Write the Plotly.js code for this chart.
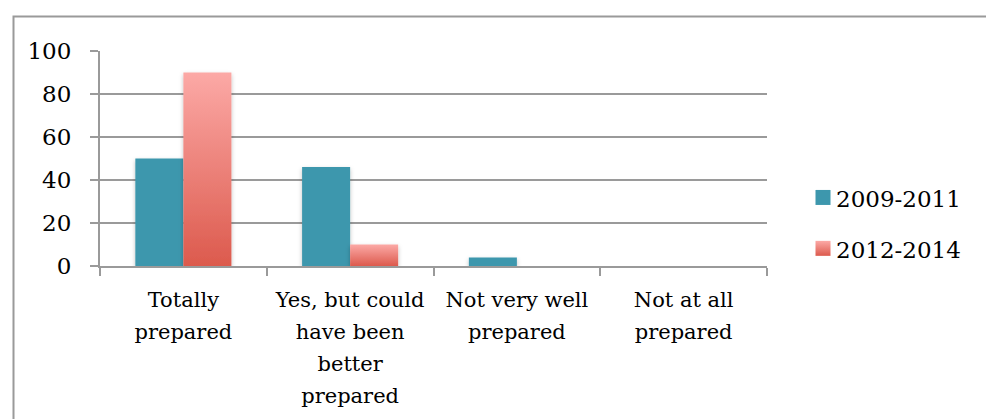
<!DOCTYPE html>
<html>
<head>
<meta charset="utf-8">
<script src="https://cdn.plot.ly/plotly-3.0.1.min.js"></script>
<style>
  html, body { margin: 0; padding: 0; background: #ffffff; }
  #chart { width: 986px; height: 419px; }
</style>
</head>
<body>
<div id="chart"></div>
<script>
// Survey answers: how prepared respondents felt, by period
const categories = [
  'Totally<br>prepared',
  'Yes, but could<br>have been<br>better<br>prepared',
  'Not very well<br>prepared',
  'Not at all<br>prepared'
];
const seriesNames = ['2009-2011', '2012-2014'];
const values2009 = [50, 46, 4, 0];
const values2012 = [90, 10, 0, 0];
const yTicks = [0, 20, 40, 60, 80, 100];

const SERIF = '"DejaVu Serif", serif';
const GRID = '#9a9a9a';

// plot area in pixels: x 100..767, y 51..266
const L = 100, R = 767, T = 51, B = 266, W = 986, H = 419;
const px = x => (x - L) / (R - L);
const py = y => (B - y) / (B - T);

const traces = [
  {
    type: 'bar', name: seriesNames[0], x: categories, y: values2009,
    marker: { color: '#3d97ad', line: { width: 0 } },
    legendgroup: 'a', hoverinfo: 'skip'
  },
  {
    type: 'bar', name: seriesNames[1], x: categories, y: values2012,
    marker: { color: '#e8756c', line: { width: 0 } },
    legendgroup: 'b', hoverinfo: 'skip'
  }
];

const layout = {
  width: W, height: H,
  margin: { l: L, r: W - R, t: T, b: H - B, pad: 0 },
  paper_bgcolor: '#ffffff', plot_bgcolor: '#ffffff',
  font: { family: SERIF, size: 23, color: '#000000' },
  barmode: 'group',
  bargap: 0.424, bargroupgap: 0,
  showlegend: true,
  legend: {
    x: px(796), y: py(177), xanchor: 'left', yanchor: 'top',
    font: { family: SERIF, size: 23, color: '#000000' },
    traceorder: 'grouped', tracegroupgap: 18,
    bgcolor: 'rgba(0,0,0,0)', itemwidth: 30
  },
  xaxis: {
    type: 'category', showgrid: false, zeroline: false,
    showline: true, linecolor: GRID, linewidth: 2,
    ticks: 'outside', tickson: 'boundaries', ticklen: 8, tickwidth: 2, tickcolor: GRID,
    tickangle: 0, tickfont: { family: SERIF, size: 21 }, ticklabelstandoff: 14,
    fixedrange: true
  },
  yaxis: {
    range: [0, 100], tickvals: yTicks, ticktext: yTicks.map(String),
    showgrid: true, gridcolor: GRID, gridwidth: 2,
    zeroline: false, showline: true, linecolor: GRID, linewidth: 2,
    ticks: 'outside', ticklen: 8, tickwidth: 2, tickcolor: GRID,
    tickfont: { family: SERIF, size: 23 }, ticklabelstandoff: 14,
    fixedrange: true
  },
  shapes: [
    // chart frame (left and top edges)
    {
      type: 'path', xref: 'paper', yref: 'paper',
      path: `M ${px(13.5)} ${py(H + 5)} L ${px(13.5)} ${py(16.5)} L ${px(W + 5)} ${py(16.5)}`,
      line: { color: '#9a9a9a', width: 2 }, layer: 'below'
    }
  ]
};

Plotly.newPlot('chart', traces, layout, { staticPlot: true, displayModeBar: false }).then(gd => {
  // vertical pink gradient and soft drop shadow for the bars
  const svg = gd.querySelector('svg.main-svg');
  const NS = 'http://www.w3.org/2000/svg';
  let defs = svg.querySelector('defs');
  if (!defs) { defs = document.createElementNS(NS, 'defs'); svg.insertBefore(defs, svg.firstChild); }
  const grad = document.createElementNS(NS, 'linearGradient');
  grad.setAttribute('id', 'pinkGrad');
  grad.setAttribute('x1', '0'); grad.setAttribute('y1', '0');
  grad.setAttribute('x2', '0'); grad.setAttribute('y2', '1');
  [['0', '#fca9a6'], ['1', '#dc5a4d']].forEach(([o, c]) => {
    const s = document.createElementNS(NS, 'stop');
    s.setAttribute('offset', o); s.setAttribute('stop-color', c);
    grad.appendChild(s);
  });
  defs.appendChild(grad);
  const filt = document.createElementNS(NS, 'filter');
  filt.setAttribute('id', 'barShadow');
  filt.setAttribute('x', '-20%'); filt.setAttribute('y', '-20%');
  filt.setAttribute('width', '140%'); filt.setAttribute('height', '140%');
  filt.innerHTML = '<feDropShadow dx="0" dy="2" stdDeviation="2" flood-color="#000" flood-opacity="0.25"/>';
  defs.appendChild(filt);

  const traceGroups = svg.querySelectorAll('.barlayer .trace');
  traceGroups.forEach(g => g.setAttribute('filter', 'url(#barShadow)'));
  if (traceGroups[1]) {
    traceGroups[1].querySelectorAll('path').forEach(p => { p.style.fill = 'url(#pinkGrad)'; });
  }
  // legend swatches: square, sitting close to their labels
  const legendItems = gd.querySelectorAll('.legend .traces');
  legendItems.forEach((item, i) => {
    item.querySelectorAll('.legendpoints path').forEach(p => {
      p.setAttribute('d', 'M7.5,7.5H-7.5V-7.5H7.5Z');
      p.setAttribute('transform', 'translate(27,-1)');
      if (i === 1) p.style.fill = 'url(#pinkGrad)';
    });
  });
  // looser line spacing in the category labels
  gd.querySelectorAll('.xtick text tspan.line').forEach(t => {
    const dy = t.getAttribute('dy');
    if (dy && dy.endsWith('em')) t.setAttribute('dy', (parseFloat(dy) * 1.17) + 'em');
  });
});
</script>
</body>
</html>
